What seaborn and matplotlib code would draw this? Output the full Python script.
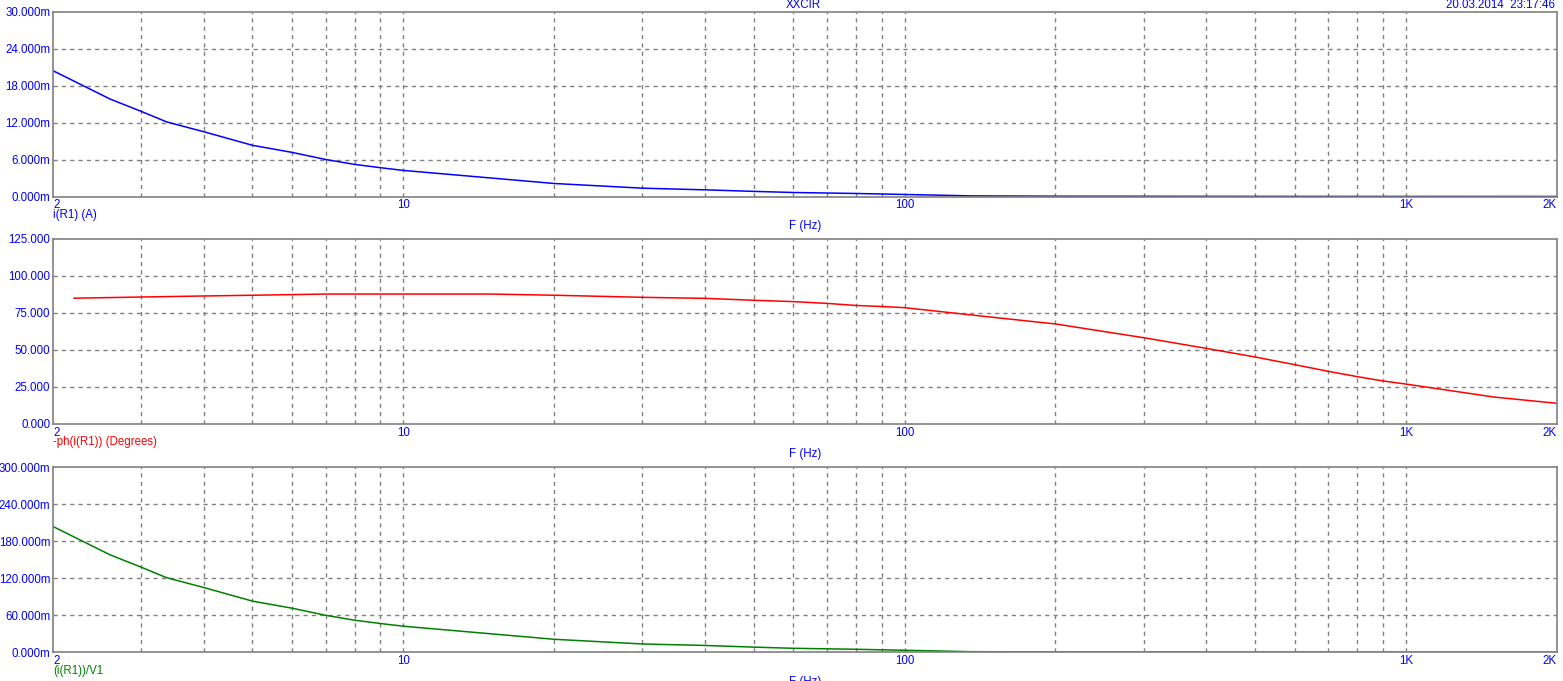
import numpy as np
import pandas as pd
import seaborn as sns
import matplotlib.pyplot as plt
from matplotlib.ticker import FixedLocator, FuncFormatter, NullFormatter

sns.set_theme(style="white")
plt.rcParams['font.family'] = ['Liberation Sans', 'DejaVu Sans']

# values
freq_i = [2, 2.6, 3, 3.37, 4, 5, 6, 7, 8, 9, 10, 20, 30, 40, 50, 60, 80, 100,
          136, 200, 500, 1000, 2000]
i_r1 = [20.4, 15.8, 13.8, 12.1, 10.5, 8.3, 7.15, 6.0, 5.2, 4.67, 4.23, 2.11,
        1.35, 1.08, 0.83, 0.65, 0.49, 0.33, 0.10, 0.05, 0.02, 0.01, 0.005]  # mA
ratio = [204, 158, 138, 121, 105, 83, 71.5, 60, 52, 46.7, 42.3, 21.1,
         13.5, 11.1, 8.4, 6.5, 4.9, 3.3, 1.0, 0.5, 0.2, 0.1, 0.05]  # m

freq_ph = [2.2, 3, 4, 5, 7, 10, 15, 20, 30, 40, 50, 60, 70, 80, 90, 100, 150,
           200, 300, 400, 500, 600, 700, 800, 900, 1000, 1500, 2000]
phase = [85.0, 85.8, 86.5, 87.0, 87.8, 87.8, 87.8, 87.0, 85.6, 84.9, 83.6,
         82.7, 81.5, 80.1, 79.4, 78.6, 72.1, 67.6, 58.3, 51.1, 45.3, 40.1,
         35.6, 32.0, 29.1, 27.0, 18.2, 14.0]

x_ticks = [2, 10, 100, 1000, 2000]
x_labels = ['2', '10', '100', '1K', '2K']
grid_x = [3, 4, 5, 6, 7, 8, 9, 10, 20, 30, 40, 50, 60, 70, 80, 90, 100,
          200, 300, 400, 500, 600, 700, 800, 900, 1000]

panels = [
    dict(x=freq_i, y=i_r1, color='#0000FF', ymax=30, suffix='m',
         name='i(R1) (A)'),
    dict(x=freq_ph, y=phase, color='#FF0000', ymax=125, suffix='',
         name='-ph(i(R1)) (Degrees)'),
    dict(x=freq_i, y=ratio, color='#008000', ymax=300, suffix='m',
         name='(i(R1))/V1'),
]

W, H = 1563, 681
fig = plt.figure(figsize=(W / 100, H / 100), dpi=100)
tops = [11.5, 239, 467.3]
left, right, ph = 53, 1556.7, 185
tick_blue = '#0000FF'
grey = '#808080'
fs = 8.3

for p, top in zip(panels, tops):
    ax = fig.add_axes([left / W, 1 - (top + ph) / H, (right - left) / W, ph / H])
    df = pd.DataFrame({'F': p['x'], 'v': p['y']})
    sns.lineplot(data=df, x='F', y='v', ax=ax, color=p['color'],
                 linewidth=1.1, estimator=None, sort=False)
    ax.set_xscale('log')
    ax.set_xlim(2, 2000)
    ax.set_ylim(0, p['ymax'])
    ax.set_xlabel('')
    ax.set_ylabel('')

    ax.xaxis.set_major_locator(FixedLocator(x_ticks))
    ax.xaxis.set_minor_locator(FixedLocator(grid_x))
    ax.xaxis.set_minor_formatter(NullFormatter())
    ax.set_xticklabels(x_labels)
    yt = np.linspace(0, p['ymax'], 6)
    ax.set_yticks(yt)
    sfx = p['suffix']
    ax.yaxis.set_major_formatter(FuncFormatter(lambda v, pos, s=sfx: f'{v:.3f}{s}'))

    ax.tick_params(axis='both', which='both', length=0, labelsize=fs,
                   labelcolor=tick_blue, pad=2)
    ax.grid(False)
    for gx in grid_x:
        ax.axvline(gx, color=grey, linestyle=(0, (3, 3)), linewidth=1, zorder=0)
    for gy in yt[1:-1]:
        ax.axhline(gy, color=grey, linestyle=(0, (3, 3)), linewidth=1, zorder=0)
    for s in ax.spines.values():
        s.set_color(grey)
        s.set_linewidth(1.2)

    labels = ax.get_xticklabels()
    labels[0].set_ha('left')
    labels[-1].set_ha('right')

    yb = top + ph
    fig.text(left / W, 1 - (yb + 18.5) / H, p['name'], color=p['color'],
             fontsize=fs, ha='left', va='center')
    fig.text(805 / W, 1 - (yb + 30) / H, 'F (Hz)', color=tick_blue,
             fontsize=fs, ha='center', va='center')

fig.text(803 / W, 1 - 5 / H, 'XXCIR', color=tick_blue, fontsize=fs,
         ha='center', va='center')
fig.text(1555 / W, 1 - 5 / H, '20.03.2014  23:17:46', color=tick_blue,
         fontsize=fs, ha='right', va='center')

fig.savefig('out.png', dpi=100)
